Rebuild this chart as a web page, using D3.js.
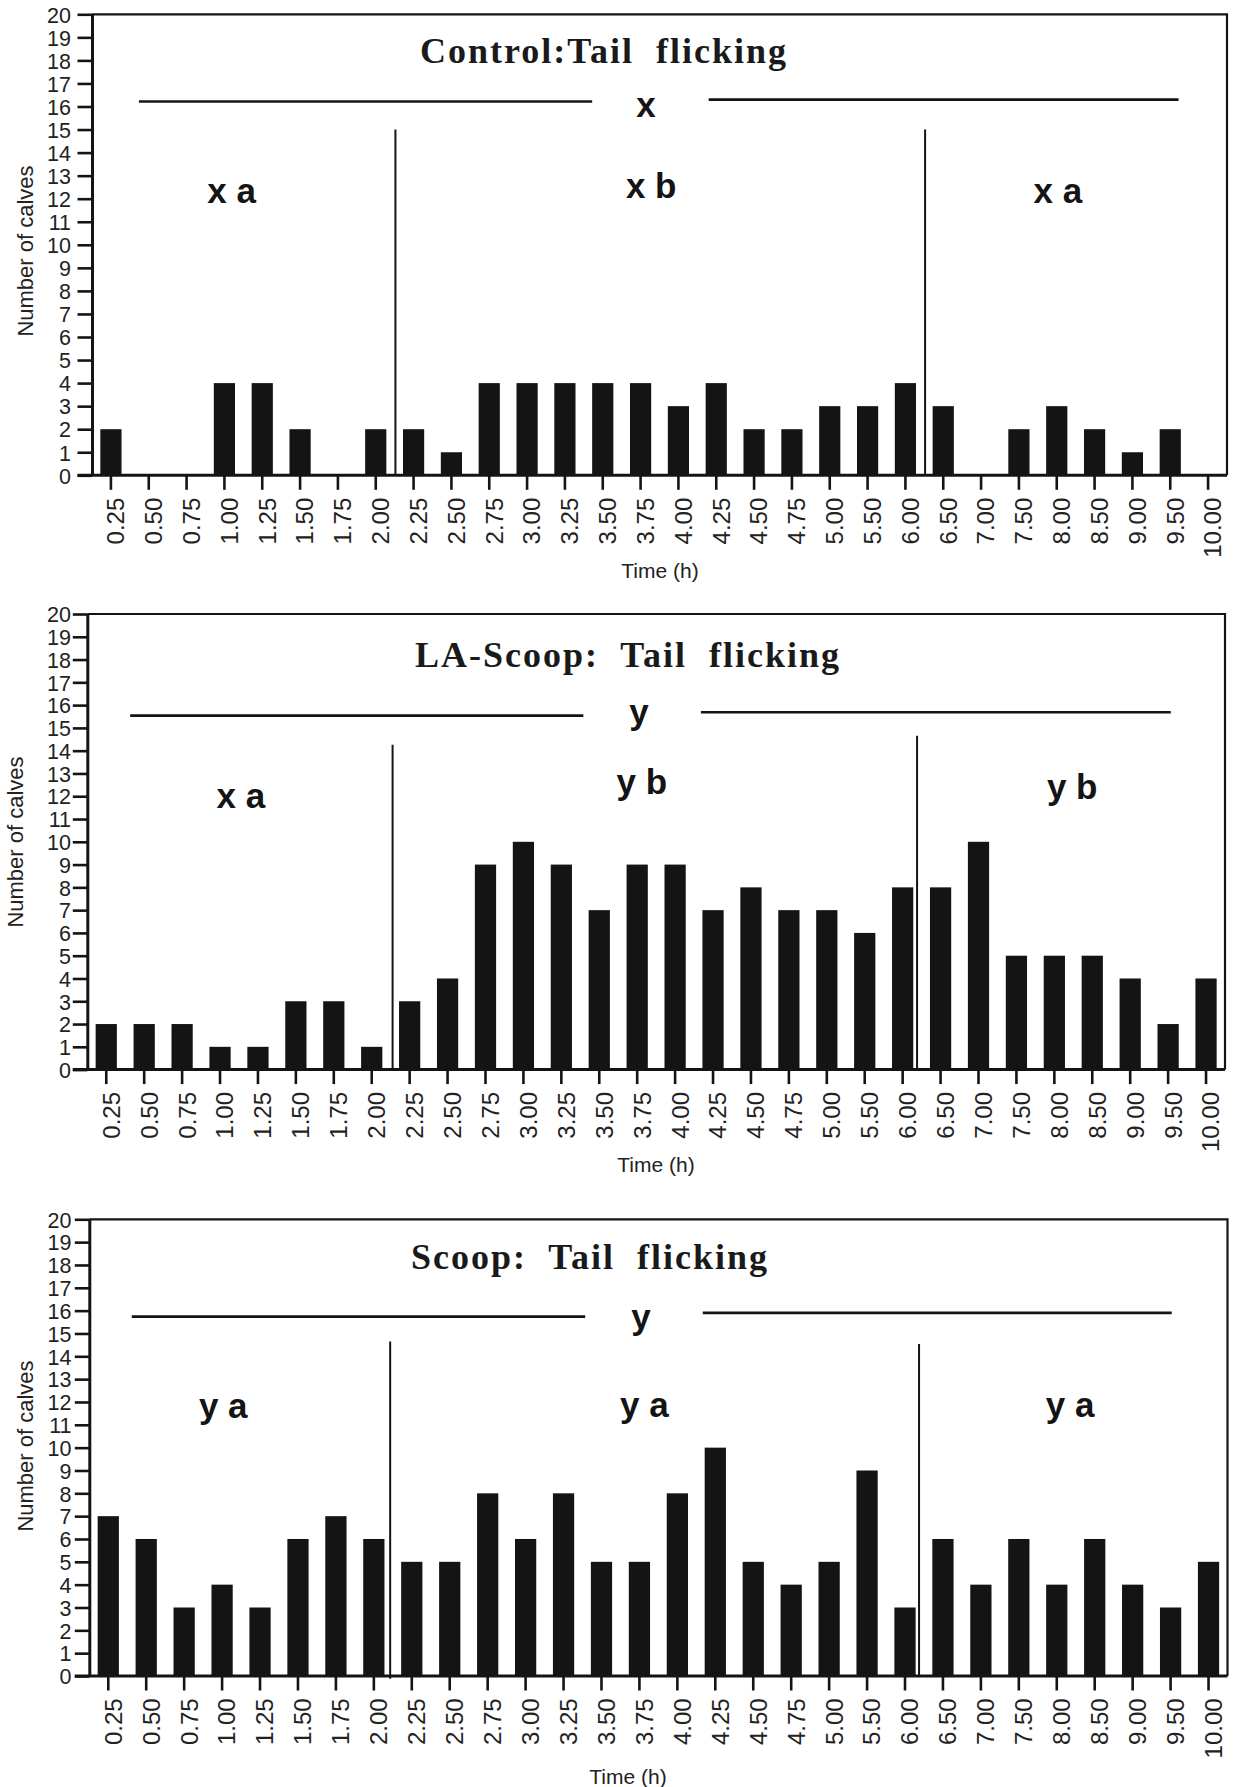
<!DOCTYPE html>
<html>
<head>
<meta charset="utf-8">
<script src="https://cdn.jsdelivr.net/npm/d3@7"></script>
<style>
  html, body { margin: 0; padding: 0; background: #fff; }
  svg { display: block; }
</style>
</head>
<body>
<svg id="chart" width="1239" height="1787"></svg>
<script>
// ---- Data ---------------------------------------------------------------
const categories = ["0.25","0.50","0.75","1.00","1.25","1.50","1.75","2.00","2.25","2.50",
                    "2.75","3.00","3.25","3.50","3.75","4.00","4.25","4.50","4.75","5.00",
                    "5.50","6.00","6.50","7.00","7.50","8.00","8.50","9.00","9.50","10.00"];

const controlCounts = [2,0,0,4,4,2,0,2,2,1, 4,4,4,4,4,3,4,2,2,3, 3,4,3,0,2,3,2,1,2,0];
const laScoopCounts = [2,2,2,1,1,3,3,1,3,4, 9,10,9,7,9,9,7,8,7,7, 6,8,8,10,5,5,5,4,2,4];
const scoopCounts   = [7,6,3,4,3,6,7,6,5,5, 8,6,8,5,5,8,10,5,4,5, 9,3,6,4,6,4,6,4,3,5];

const yTicks = [0,1,2,3,4,5,6,7,8,9,10,11,12,13,14,15,16,17,18,19,20];

const panelTitles    = ["Control:Tail  flicking", "LA-Scoop:  Tail  flicking", "Scoop:  Tail  flicking"];
const overallLetters = ["x", "y", "y"];
const segmentLetters = [["x a", "x b", "x a"], ["x a", "y b", "y b"], ["y a", "y a", "y a"]];

const yAxisTitle = "Number of calves";
const xAxisTitle = "Time (h)";

// ---- Layout -------------------------------------------------------------
// Slot units: 0..30 across the plot width (one slot per time category).
const panels = [
  { counts: controlCounts,
    box: { left: 92, right: 1227, top: 14.3, bottom: 475.3 },
    titleX: 420, titleV: 17.9,
    groupLines: [{ from: 1.24, to: 13.22, v: 16.22 }, { from: 16.3, to: 28.72, v: 16.3 }],
    groupLetter: { s: 14.64, v: 15.56 },
    separators: [{ s: 8.02, top: 15.0, bottom: 0 }, { s: 22.02, top: 15.0, bottom: 0 }],
    segLetters: [{ s: 3.69, v: 11.83 }, { s: 14.78, v: 12.02 }, { s: 25.53, v: 11.82 }],
    yTitle: { x: 33, y: 251 }, xTitle: { x: 660, y: 578 }, yLabelRight: 71 },
  { counts: laScoopCounts,
    box: { left: 87.3, right: 1225, top: 614, bottom: 1069.6 },
    titleX: 415, titleV: 17.67,
    groupLines: [{ from: 1.13, to: 13.08, v: 15.54 }, { from: 16.18, to: 28.57, v: 15.69 }],
    groupLetter: { s: 14.55, v: 15.17 },
    separators: [{ s: 8.05, top: 14.26, bottom: 0 }, { s: 21.88, top: 14.65, bottom: 0 }],
    segLetters: [{ s: 4.05, v: 11.47 }, { s: 14.62, v: 12.1 }, { s: 25.97, v: 11.88 }],
    yTitle: { x: 23, y: 842 }, xTitle: { x: 656, y: 1172 }, yLabelRight: 71 },
  { counts: scoopCounts,
    box: { left: 89.3, right: 1227.5, top: 1219.3, bottom: 1676 },
    titleX: 411, titleV: 17.83,
    groupLines: [{ from: 1.12, to: 13.07, v: 15.74 }, { from: 16.17, to: 28.53, v: 15.9 }],
    groupLetter: { s: 14.54, v: 15.21 },
    separators: [{ s: 7.93, top: 14.65, bottom: -0.12 }, { s: 21.87, top: 14.54, bottom: 0 }],
    segLetters: [{ s: 3.53, v: 11.29 }, { s: 14.63, v: 11.34 }, { s: 25.85, v: 11.34 }],
    yTitle: { x: 33, y: 1446 }, xTitle: { x: 628, y: 1784 }, yLabelRight: 71.5 }
];

const INK = "#141414";
const sansFont = "'Liberation Sans', Arial, Helvetica, sans-serif";
const narrowFont = "'Liberation Sans Narrow', 'Arial Narrow', 'Liberation Sans', sans-serif";
const serifFont = "'Liberation Serif', 'Times New Roman', Times, serif";

const svg = d3.select("#chart");
svg.append("rect").attr("width", 1239).attr("height", 1787).attr("fill", "#fff");

panels.forEach((p, i) => {
  const g = svg.append("g");
  const { left, right, top, bottom } = p.box;

  const x = d3.scaleBand()
    .domain(categories)
    .range([left, right])
    .paddingInner(0.44)
    .paddingOuter(0.22);

  const slot = d3.scaleLinear().domain([0, categories.length]).range([left, right]);
  const y = d3.scaleLinear().domain([0, 20]).range([bottom, top]);

  // Bars
  g.append("g").selectAll("rect")
    .data(categories.map((c, k) => ({ c, v: p.counts[k] })))
    .join("rect")
    .attr("x", d => x(d.c))
    .attr("width", x.bandwidth())
    .attr("y", d => y(d.v))
    .attr("height", d => y(0) - y(d.v))
    .attr("fill", INK);

  // Frame: top and right sides
  g.append("path")
    .attr("d", `M${left},${top}H${right}V${bottom}`)
    .attr("fill", "none").attr("stroke", INK).attr("stroke-width", 2.2);

  // Y axis
  const yAxis = g.append("g")
    .attr("transform", `translate(${left},0)`)
    .call(d3.axisLeft(y).tickValues(yTicks).tickSize(14.5).tickSizeOuter(0).tickFormat(d3.format("d")));
  yAxis.select(".domain").attr("stroke", INK).attr("stroke-width", 3);
  yAxis.selectAll(".tick line").attr("stroke", INK).attr("stroke-width", 2.6);
  yAxis.selectAll(".tick text")
    .attr("x", -(left - p.yLabelRight))
    .attr("dy", "0.36em")
    .attr("fill", "#222")
    .style("font-family", sansFont)
    .style("font-size", "21.5px");

  // X axis (ticks only; labels placed vertically below)
  const xAxis = g.append("g")
    .attr("transform", `translate(0,${bottom})`)
    .call(d3.axisBottom(x).tickSize(14.5).tickSizeOuter(0).tickFormat(""));
  xAxis.select(".domain")
    .attr("d", `M${left - 14.5},0H${right}`)
    .attr("stroke", INK).attr("stroke-width", 3);
  xAxis.selectAll(".tick line").attr("stroke", INK).attr("stroke-width", 2.6);

  g.append("g").selectAll("text")
    .data(categories)
    .join("text")
    .attr("transform", d => `translate(${x(d) + x.bandwidth() / 2 + 13.4},${bottom + 22.4}) rotate(-90)`)
    .attr("text-anchor", "end")
    .attr("fill", "#222")
    .style("font-family", narrowFont)
    .style("font-size", "24px")
    .text(d => d);

  // Title
  g.append("text")
    .attr("x", p.titleX)
    .attr("y", y(p.titleV))
    .attr("fill", "#1a1a1a")
    .style("font-family", serifFont)
    .style("font-weight", "bold")
    .style("font-size", "36px")
    .style("letter-spacing", "2px")
    .style("white-space", "pre")
    .text(panelTitles[i]);

  // Overall group lines and letter
  g.append("g").selectAll("line")
    .data(p.groupLines)
    .join("line")
    .attr("x1", d => slot(d.from)).attr("x2", d => slot(d.to))
    .attr("y1", d => y(d.v)).attr("y2", d => y(d.v))
    .attr("stroke", INK).attr("stroke-width", 2.6);

  g.append("text")
    .attr("x", slot(p.groupLetter.s))
    .attr("y", y(p.groupLetter.v))
    .attr("text-anchor", "middle")
    .attr("fill", INK)
    .style("font-family", sansFont)
    .style("font-weight", "bold")
    .style("font-size", "35px")
    .text(overallLetters[i]);

  // Period separators
  g.append("g").selectAll("line")
    .data(p.separators)
    .join("line")
    .attr("x1", d => slot(d.s)).attr("x2", d => slot(d.s))
    .attr("y1", d => y(d.top)).attr("y2", d => y(d.bottom))
    .attr("stroke", INK).attr("stroke-width", 2);

  // Period letters
  g.append("g").selectAll("text")
    .data(p.segLetters.map((d, k) => ({ ...d, label: segmentLetters[i][k] })))
    .join("text")
    .attr("x", d => slot(d.s))
    .attr("y", d => y(d.v))
    .attr("text-anchor", "middle")
    .attr("fill", INK)
    .style("font-family", sansFont)
    .style("font-weight", "bold")
    .style("font-size", "35px")
    .style("white-space", "pre")
    .text(d => d.label);

  // Axis titles
  g.append("text")
    .attr("transform", `translate(${p.yTitle.x},${p.yTitle.y}) rotate(-90)`)
    .attr("text-anchor", "middle")
    .attr("fill", "#222")
    .style("font-family", sansFont)
    .style("font-size", "22px")
    .text(yAxisTitle);

  g.append("text")
    .attr("x", p.xTitle.x)
    .attr("y", p.xTitle.y)
    .attr("text-anchor", "middle")
    .attr("fill", "#222")
    .style("font-family", sansFont)
    .style("font-size", "21px")
    .text(xAxisTitle);
});
</script>
</body>
</html>
